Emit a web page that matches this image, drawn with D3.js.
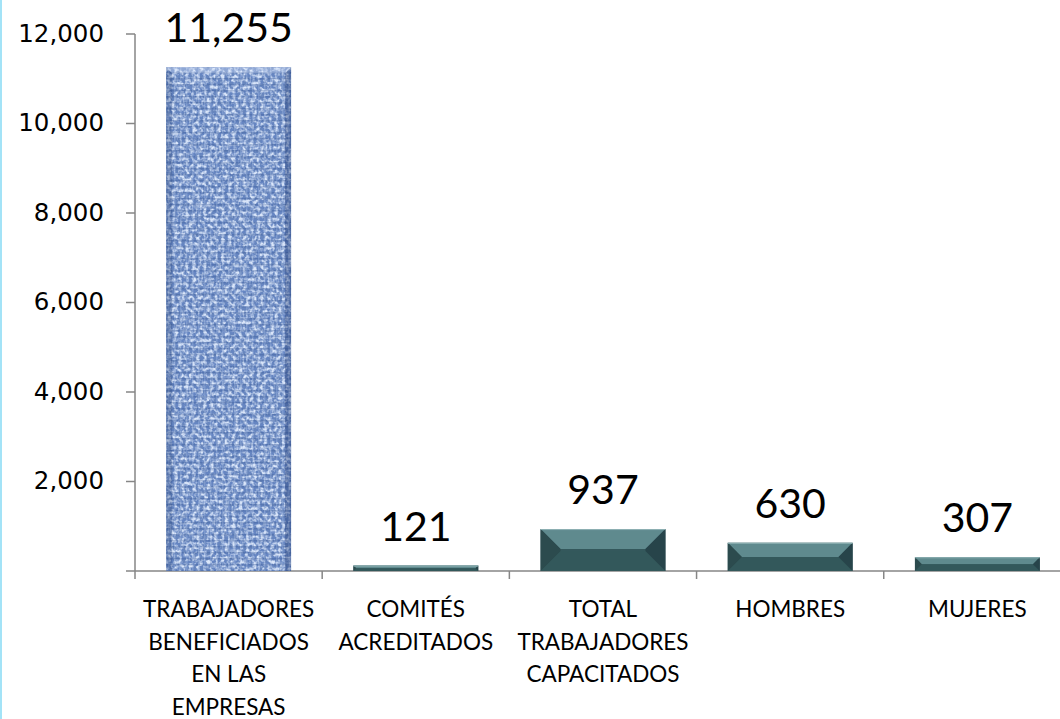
<!DOCTYPE html>
<html>
<head>
<meta charset="utf-8">
<script src="https://cdn.jsdelivr.net/npm/d3@7"></script>
<style>
  html, body { margin: 0; padding: 0; background: #fff; }
  svg { display: block; }
</style>
</head>
<body>
<svg id="chart" width="1060" height="719"></svg>
<script>
const categories = [
  "TRABAJADORES\nBENEFICIADOS\nEN LAS\nEMPRESAS",
  "COMITÉS\nACREDITADOS",
  "TOTAL\nTRABAJADORES\nCAPACITADOS",
  "HOMBRES",
  "MUJERES"
];
const values = [11255, 121, 937, 630, 307];
const yTicks = [0, 2000, 4000, 6000, 8000, 10000, 12000];

const svg = d3.select("#chart");
const W = 1060, H = 719;

// left light-blue border
svg.append("rect").attr("x", 0).attr("y", 0).attr("width", 2).attr("height", H).attr("fill", "#a3e3f7");

const x = d3.scaleBand().domain(categories).range([135, 1071]).paddingInner(0.333).paddingOuter(0.1667);
const y = d3.scaleLinear().domain([0, 12000]).range([571, 34]);

const defs = svg.append("defs");
// canvas-like texture for first bar
const f = defs.append("filter").attr("id", "canvas").attr("x", 0).attr("y", 0).attr("width", 1).attr("height", 1);
f.append("feTurbulence").attr("type", "fractalNoise").attr("baseFrequency", "0.28 0.28").attr("numOctaves", 2).attr("seed", 3).attr("result", "noise");
f.append("feColorMatrix").attr("in", "noise").attr("type", "matrix")
  .attr("values", "0 0 0 0 0.70  0 0 0 0 0.79  0 0 0 0 0.95  3.0 0 0 0 -1.2").attr("result", "light");
f.append("feComposite").attr("in", "light").attr("in2", "SourceGraphic").attr("operator", "in");

const f2 = defs.append("filter").attr("id", "canvasDark").attr("x", 0).attr("y", 0).attr("width", 1).attr("height", 1);
f2.append("feTurbulence").attr("type", "fractalNoise").attr("baseFrequency", "0.3 0.3").attr("numOctaves", 2).attr("seed", 11).attr("result", "noise");
f2.append("feColorMatrix").attr("in", "noise").attr("type", "matrix")
  .attr("values", "0 0 0 0 0.14  0 0 0 0 0.24  0 0 0 0 0.50  3.2 0 0 0 -1.25").attr("result", "dark");
f2.append("feComposite").attr("in", "dark").attr("in2", "SourceGraphic").attr("operator", "in");

// weave pattern
const pat = defs.append("pattern").attr("id", "weave").attr("patternUnits", "userSpaceOnUse").attr("width", 6).attr("height", 6);
pat.append("rect").attr("width", 6).attr("height", 6).attr("fill", "none");
pat.append("rect").attr("x", 0).attr("y", 0).attr("width", 6).attr("height", 1.5).attr("fill", "#2f4f8e").attr("opacity", 0.3);
pat.append("rect").attr("x", 0).attr("y", 0).attr("width", 1.5).attr("height", 6).attr("fill", "#c4d6f3").attr("opacity", 0.25);

// axes
const axisColor = "#868686";
const g = svg.append("g");

// y axis line + ticks
g.append("line").attr("x1", 135).attr("x2", 135).attr("y1", y(12000)).attr("y2", 579)
  .attr("stroke", axisColor).attr("stroke-width", 1.5);
g.selectAll(".yt").data(yTicks).enter().append("line")
  .attr("x1", 126).attr("x2", 135).attr("y1", d => y(d)).attr("y2", d => y(d))
  .attr("stroke", axisColor).attr("stroke-width", 1.5);
g.selectAll(".yl").data(yTicks.filter(d => d > 0)).enter().append("text")
  .attr("x", 104).attr("y", d => y(d) + 7.5)
  .attr("text-anchor", "end")
  .attr("font-family", "DejaVu Sans")
  .attr("font-size", 24.5)
  .attr("fill", "#000")
  .text(d => d3.format(",")(d));

// x axis line + ticks at band boundaries
g.append("line").attr("x1", 135).attr("x2", W).attr("y1", 571).attr("y2", 571)
  .attr("stroke", axisColor).attr("stroke-width", 1.5);
const bounds = categories.map(c => x(c) - x.step() * x.paddingOuter());
g.selectAll(".xt").data(bounds.slice(1)).enter().append("line")
  .attr("x1", d => d).attr("x2", d => d).attr("y1", 571).attr("y2", 579)
  .attr("stroke", axisColor).attr("stroke-width", 1.5);

// bars
const bw = x.bandwidth();
categories.forEach((c, i) => {
  const x0 = x(c), y0 = y(values[i]), h = y(0) - y(values[i]);
  const bg = svg.append("g");
  if (i === 0) {
    bg.append("rect").attr("x", x0).attr("y", y0).attr("width", bw).attr("height", h).attr("fill", "#6585c2");
    bg.append("rect").attr("x", x0).attr("y", y0).attr("width", bw).attr("height", h).attr("fill", "#000").attr("filter", "url(#canvasDark)");
    bg.append("rect").attr("x", x0).attr("y", y0).attr("width", bw).attr("height", h).attr("fill", "#000").attr("filter", "url(#canvas)");
    bg.append("rect").attr("x", x0).attr("y", y0).attr("width", bw).attr("height", h).attr("fill", "url(#weave)");
    const b = 6;
    bg.append("path").attr("d", `M${x0},${y0}L${x0+bw},${y0}L${x0+bw-b},${y0+b}L${x0+b},${y0+b}Z`).attr("fill", "#dce8fb").attr("opacity", 0.35);
    bg.append("path").attr("d", `M${x0},${y0}L${x0+b},${y0+b}L${x0+b},${y0+h}L${x0},${y0+h}Z`).attr("fill", "#1d3770").attr("opacity", 0.25);
    bg.append("path").attr("d", `M${x0+bw},${y0}L${x0+bw-b},${y0+b}L${x0+bw-b},${y0+h}L${x0+bw},${y0+h}Z`).attr("fill", "#1d3770").attr("opacity", 0.35);
  } else {
    const b = Math.min(20, h / 2, bw / 2);
    const x1 = x0 + bw, y1 = y0 + h;
    bg.append("rect").attr("x", x0).attr("y", y0).attr("width", bw).attr("height", h).attr("fill", "#34585c");
    bg.append("path").attr("d", `M${x0},${y0}L${x1},${y0}L${x1-b},${y0+b}L${x0+b},${y0+b}Z`).attr("fill", "#5f8a8e");
    bg.append("path").attr("d", `M${x0},${y1}L${x1},${y1}L${x1-b},${y1-b}L${x0+b},${y1-b}Z`).attr("fill", "#33585b");
    bg.append("path").attr("d", `M${x0},${y0}L${x0+b},${y0+b}L${x0+b},${y1-b}L${x0},${y1}Z`).attr("fill", "#2c4b4e");
    bg.append("path").attr("d", `M${x1},${y0}L${x1-b},${y0+b}L${x1-b},${y1-b}L${x1},${y1}Z`).attr("fill", "#27444a");
    bg.append("line").attr("x1", x0).attr("x2", x1).attr("y1", y0 + 0.5).attr("y2", y0 + 0.5).attr("stroke", "#8fb2b5").attr("stroke-width", 1);
  }
});

// data labels
svg.selectAll(".dl").data(values).enter().append("text")
  .attr("x", (d, i) => x(categories[i]) + bw / 2)
  .attr("y", d => y(d) - 25)
  .attr("text-anchor", "middle")
  .attr("font-family", "Lato")
  .attr("font-size", 41)
  .attr("fill", "#000")
  .text(d => d3.format(",")(d));

// category labels
categories.forEach((c, i) => {
  const t = svg.append("text")
    .attr("text-anchor", "middle")
    .attr("font-family", "Lato")
    .attr("font-size", 22.5)
    .attr("fill", "#000");
  c.split("\n").forEach((line, j) => {
    t.append("tspan").attr("x", x(c) + bw / 2).attr("y", 617 + j * 32.5).text(line);
  });
});
</script>
</body>
</html>
